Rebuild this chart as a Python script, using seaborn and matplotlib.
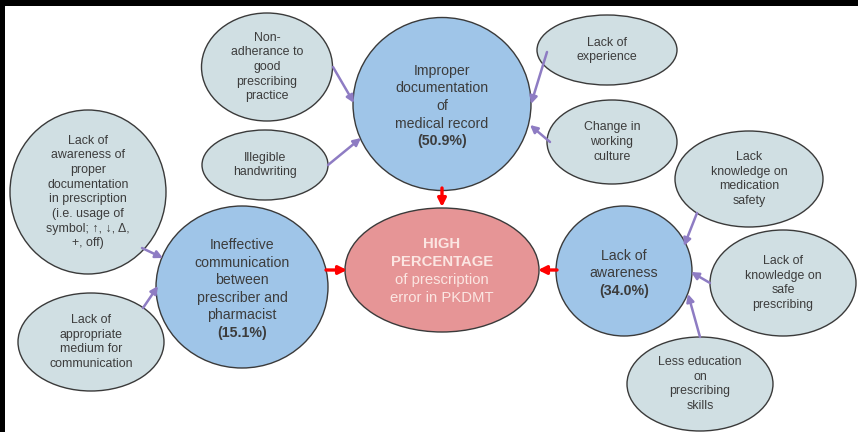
import matplotlib
matplotlib.use("Agg")
import matplotlib.pyplot as plt
from matplotlib.patches import Ellipse
import seaborn as sns

# Node labels (one list of lines per node)
shares = [50.9, 15.1, 34.0]
main_labels = [
    ["Improper", "documentation", "of", "medical record"],
    ["Ineffective", "communication", "between", "prescriber and", "pharmacist"],
    ["Lack of", "awareness"],
]
cause_labels = [
    ["Non-", "adherance to", "good", "prescribing", "practice"],
    ["Illegible", "handwriting"],
    ["Lack of", "experience"],
    ["Change in", "working", "culture"],
    ["Lack of", "awareness of", "proper", "documentation", "in prescription",
     "(i.e. usage of", "symbol; \u2191, \u2193, \u0394,", "+, off)"],
    ["Lack of", "appropriate", "medium for", "communication"],
    ["Lack", "knowledge on", "medication", "safety"],
    ["Lack of", "knowledge on", "safe", "prescribing"],
    ["Less education", "on", "prescribing", "skills"],
]
cause_parent = [0, 0, 0, 0, 1, 1, 2, 2, 2]
outcome_bold = ["HIGH", "PERCENTAGE"]
outcome_text = ["of prescription", "error in PKDMT"]

# Layout in image pixels (x, y, width, height)
main_geom = [(442, 104, 178, 173), (242, 287, 172, 162), (624, 271, 136, 130)]
cause_geom = [
    (267, 67, 131, 108), (265, 165, 126, 70), (607, 50, 140, 70),
    (612, 142, 130, 84), (88, 192, 156, 164), (91, 342, 146, 98),
    (749, 179, 148, 96), (783, 283, 146, 106), (700, 384, 146, 94),
]
outcome_geom = (442, 270, 194, 124)

# arrow start/end points in pixels
cause_arrows = [
    ((333, 67), (354, 103)), ((328, 165), (361, 138)), ((547, 52), (531, 104)),
    ((550, 142), (530, 125)), ((142, 248), (163, 258)), ((143, 308), (158, 286)),
    ((697, 213), (684, 246)), ((710, 283), (691, 272)), ((700, 337), (688, 294)),
]
main_arrows = [((442, 188), (442, 207)), ((326, 270), (347, 270)), ((557, 270), (538, 270))]

LIGHT = "#d0dfe3"
BLUE = "#9fc5e8"
PINK = "#e69596"
EDGE = "#3a3a3a"
TEXT = "#3c3c3c"
PURPLE = "#8e7cc3"
RED = "#ff0000"

sns.set_theme(style="white")
plt.rcParams["font.family"] = ["Liberation Sans", "DejaVu Sans"]

fig = plt.figure(figsize=(8.58, 4.32), dpi=100, facecolor="black")
ax = fig.add_axes([5 / 858, 0, 853 / 858, 426 / 432])
ax.set_facecolor("white")
ax.set_xlim(5, 858)
ax.set_ylim(432, 6)
ax.axis("off")
ax.add_patch(plt.Rectangle((5, 6), 853, 426, color="white", zorder=0))


def draw_lines(x, y, lines, size, step, bold=(), color=TEXT):
    top = y - step * (len(lines) - 1) / 2
    for i, line in enumerate(lines):
        ax.text(x, top + i * step, line, ha="center", va="center",
                fontsize=size, color=color,
                fontweight="bold" if i in bold else "normal", zorder=5)


for lines, (x, y, w, h) in zip(cause_labels, cause_geom):
    ax.add_patch(Ellipse((x, y), w, h, facecolor=LIGHT, edgecolor=EDGE, lw=1, zorder=2))
    draw_lines(x, y, lines, 8.9, 14.7)

for lines, share, (x, y, w, h) in zip(main_labels, shares, main_geom):
    ax.add_patch(Ellipse((x, y), w, h, facecolor=BLUE, edgecolor=EDGE, lw=1, zorder=2))
    all_lines = lines + [f"({share:.1f}%)"]
    draw_lines(x, y + 2, all_lines, 10.2, 17.5, bold=(len(all_lines) - 1,))

x, y, w, h = outcome_geom
ax.add_patch(Ellipse((x, y), w, h, facecolor=PINK, edgecolor=EDGE, lw=1, zorder=2))
draw_lines(x, y + 1, outcome_bold + outcome_text, 10.7, 18, bold=(0, 1), color="#fbe6e2")

for (start, end) in cause_arrows:
    ax.annotate("", xy=end, xytext=start, zorder=4,
                arrowprops=dict(arrowstyle="-|>", color=PURPLE, lw=1.8,
                                mutation_scale=11, shrinkA=0, shrinkB=0))

for (start, end) in main_arrows:
    ax.annotate("", xy=end, xytext=start, zorder=4,
                arrowprops=dict(arrowstyle="-|>", color=RED, lw=2.4,
                                mutation_scale=12, shrinkA=0, shrinkB=0))

fig.savefig("out.png", dpi=100, facecolor="black")
